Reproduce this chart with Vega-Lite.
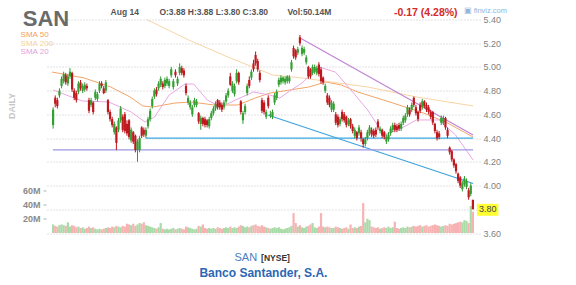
{
"$schema": "https://vega.github.io/schema/vega-lite/v6.json",
"width": 434, "height": 213.5,
"autosize": "none",
"padding": {"left": 46, "top": 19.5, "right": 96, "bottom": 52},
"background": "white",
"config": {"view": {"stroke": null}, "font": "Liberation Sans"},
"datasets": {
"candles": [
{"i":-4,"o":4.51,"h":4.66,"l":4.48,"c":4.64,"v":12},{"i":-3,"o":4.74,"h":4.76,"l":4.66,"c":4.69,"v":10},{"i":-2,"o":4.72,"h":4.74,"l":4.65,"c":4.67,"v":9},{"i":-1,"o":4.76,"h":4.82,"l":4.74,"c":4.80,"v":11},
{"i":0,"o":4.84,"h":4.92,"l":4.82,"c":4.90,"v":12},{"i":1,"o":4.88,"h":4.96,"l":4.86,"c":4.94,"v":11},{"i":2,"o":4.93,"h":4.95,"l":4.85,"c":4.87,"v":10},{"i":3,"o":4.86,"h":4.94,"l":4.84,"c":4.92,"v":15},{"i":4,"o":4.92,"h":4.99,"l":4.90,"c":4.96,"v":9},{"i":5,"o":4.95,"h":4.96,"l":4.79,"c":4.81,"v":11},{"i":6,"o":4.80,"h":4.82,"l":4.72,"c":4.74,"v":10},{"i":7,"o":4.78,"h":4.80,"l":4.70,"c":4.72,"v":8},{"i":8,"o":4.79,"h":4.88,"l":4.77,"c":4.86,"v":9},{"i":9,"o":4.87,"h":4.89,"l":4.80,"c":4.82,"v":7},
{"i":10,"o":4.80,"h":4.86,"l":4.78,"c":4.84,"v":8},{"i":11,"o":4.81,"h":4.87,"l":4.79,"c":4.85,"v":6},{"i":12,"o":4.84,"h":4.86,"l":4.80,"c":4.82,"v":7},{"i":13,"o":4.72,"h":4.74,"l":4.61,"c":4.63,"v":9},{"i":14,"o":4.68,"h":4.74,"l":4.66,"c":4.72,"v":7},{"i":15,"o":4.70,"h":4.71,"l":4.60,"c":4.62,"v":8},{"i":16,"o":4.74,"h":4.81,"l":4.72,"c":4.79,"v":6},{"i":17,"o":4.73,"h":4.79,"l":4.71,"c":4.77,"v":5},{"i":18,"o":4.80,"h":4.88,"l":4.78,"c":4.86,"v":6},{"i":19,"o":4.86,"h":4.88,"l":4.82,"c":4.84,"v":5},
{"i":20,"o":4.82,"h":4.84,"l":4.77,"c":4.78,"v":6},{"i":21,"o":4.80,"h":4.89,"l":4.78,"c":4.87,"v":7},{"i":22,"o":4.72,"h":4.73,"l":4.60,"c":4.62,"v":8},{"i":23,"o":4.62,"h":4.64,"l":4.54,"c":4.56,"v":7},{"i":24,"o":4.56,"h":4.58,"l":4.49,"c":4.51,"v":9},{"i":25,"o":4.45,"h":4.54,"l":4.43,"c":4.52,"v":8},{"i":26,"o":4.49,"h":4.50,"l":4.30,"c":4.36,"v":10},{"i":27,"o":4.47,"h":4.57,"l":4.45,"c":4.55,"v":9},{"i":28,"o":4.55,"h":4.67,"l":4.53,"c":4.65,"v":8},{"i":29,"o":4.58,"h":4.60,"l":4.45,"c":4.47,"v":10},
{"i":30,"o":4.60,"h":4.62,"l":4.44,"c":4.46,"v":9},{"i":31,"o":4.52,"h":4.55,"l":4.42,"c":4.44,"v":13},{"i":32,"o":4.55,"h":4.56,"l":4.39,"c":4.41,"v":12},{"i":33,"o":4.38,"h":4.49,"l":4.36,"c":4.47,"v":11},{"i":34,"o":4.45,"h":4.46,"l":4.35,"c":4.37,"v":13},{"i":35,"o":4.42,"h":4.43,"l":4.28,"c":4.30,"v":10},{"i":36,"o":4.30,"h":4.39,"l":4.20,"c":4.37,"v":12},{"i":37,"o":4.30,"h":4.42,"l":4.28,"c":4.40,"v":14},{"i":38,"o":4.49,"h":4.50,"l":4.40,"c":4.42,"v":13},{"i":39,"o":4.47,"h":4.49,"l":4.41,"c":4.43,"v":15},
{"i":40,"o":4.42,"h":4.49,"l":4.40,"c":4.47,"v":11},{"i":41,"o":4.50,"h":4.58,"l":4.48,"c":4.56,"v":10},{"i":42,"o":4.56,"h":4.65,"l":4.54,"c":4.63,"v":9},{"i":43,"o":4.67,"h":4.75,"l":4.65,"c":4.73,"v":8},{"i":44,"o":4.75,"h":4.82,"l":4.73,"c":4.80,"v":7},{"i":45,"o":4.81,"h":4.83,"l":4.75,"c":4.77,"v":6},{"i":46,"o":4.82,"h":4.88,"l":4.80,"c":4.86,"v":8},{"i":47,"o":4.85,"h":4.92,"l":4.83,"c":4.90,"v":14},{"i":48,"o":4.86,"h":4.88,"l":4.81,"c":4.83,"v":6},{"i":49,"o":4.84,"h":4.91,"l":4.82,"c":4.89,"v":5},
{"i":50,"o":4.86,"h":4.92,"l":4.84,"c":4.90,"v":6},{"i":51,"o":4.84,"h":4.90,"l":4.82,"c":4.88,"v":5},{"i":52,"o":4.93,"h":5.00,"l":4.91,"c":4.98,"v":6},{"i":53,"o":4.83,"h":4.90,"l":4.81,"c":4.88,"v":7},{"i":54,"o":4.96,"h":4.98,"l":4.91,"c":4.93,"v":5},{"i":55,"o":4.86,"h":4.92,"l":4.84,"c":4.90,"v":6},{"i":56,"o":4.95,"h":5.03,"l":4.93,"c":5.00,"v":7},{"i":57,"o":4.99,"h":5.01,"l":4.93,"c":4.95,"v":6},{"i":58,"o":4.97,"h":4.99,"l":4.91,"c":4.93,"v":5},{"i":59,"o":4.84,"h":4.86,"l":4.76,"c":4.78,"v":9},
{"i":60,"o":4.70,"h":4.76,"l":4.68,"c":4.74,"v":8},{"i":61,"o":4.66,"h":4.72,"l":4.64,"c":4.70,"v":7},{"i":62,"o":4.60,"h":4.68,"l":4.58,"c":4.66,"v":6},{"i":63,"o":4.68,"h":4.74,"l":4.66,"c":4.72,"v":5},{"i":64,"o":4.68,"h":4.73,"l":4.66,"c":4.71,"v":6},{"i":65,"o":4.61,"h":4.62,"l":4.52,"c":4.54,"v":10},{"i":66,"o":4.52,"h":4.59,"l":4.47,"c":4.57,"v":9},{"i":67,"o":4.57,"h":4.58,"l":4.50,"c":4.52,"v":12},{"i":68,"o":4.56,"h":4.58,"l":4.49,"c":4.51,"v":7},{"i":69,"o":4.55,"h":4.56,"l":4.49,"c":4.51,"v":6},
{"i":70,"o":4.50,"h":4.58,"l":4.48,"c":4.56,"v":7},{"i":71,"o":4.57,"h":4.63,"l":4.55,"c":4.61,"v":6},{"i":72,"o":4.61,"h":4.67,"l":4.59,"c":4.65,"v":7},{"i":73,"o":4.65,"h":4.71,"l":4.63,"c":4.69,"v":6},{"i":74,"o":4.72,"h":4.73,"l":4.64,"c":4.66,"v":8},{"i":75,"o":4.70,"h":4.72,"l":4.64,"c":4.66,"v":7},{"i":76,"o":4.68,"h":4.70,"l":4.62,"c":4.64,"v":6},{"i":77,"o":4.66,"h":4.72,"l":4.64,"c":4.70,"v":7},{"i":78,"o":4.71,"h":4.78,"l":4.69,"c":4.76,"v":8},{"i":79,"o":4.76,"h":4.82,"l":4.74,"c":4.80,"v":7},
{"i":80,"o":4.92,"h":4.95,"l":4.84,"c":4.85,"v":9},{"i":81,"o":4.80,"h":4.88,"l":4.78,"c":4.86,"v":7},{"i":82,"o":4.77,"h":4.86,"l":4.75,"c":4.84,"v":8},{"i":83,"o":4.88,"h":4.98,"l":4.86,"c":4.95,"v":7},{"i":84,"o":4.95,"h":4.96,"l":4.85,"c":4.87,"v":9},{"i":85,"o":4.71,"h":4.72,"l":4.60,"c":4.62,"v":11},{"i":86,"o":4.55,"h":4.63,"l":4.52,"c":4.61,"v":10},{"i":87,"o":4.62,"h":4.69,"l":4.60,"c":4.67,"v":8},{"i":88,"o":4.78,"h":4.86,"l":4.76,"c":4.84,"v":9},{"i":89,"o":4.89,"h":4.92,"l":4.82,"c":4.84,"v":8},
{"i":90,"o":4.91,"h":4.98,"l":4.89,"c":4.96,"v":10},{"i":91,"o":5.03,"h":5.06,"l":4.96,"c":4.98,"v":11},{"i":92,"o":5.10,"h":5.13,"l":5.01,"c":5.03,"v":12},{"i":93,"o":5.05,"h":5.07,"l":4.96,"c":4.98,"v":10},{"i":94,"o":4.95,"h":4.97,"l":4.87,"c":4.89,"v":9},{"i":95,"o":4.72,"h":4.74,"l":4.61,"c":4.63,"v":11},{"i":96,"o":4.70,"h":4.72,"l":4.60,"c":4.62,"v":9},{"i":97,"o":4.58,"h":4.64,"l":4.56,"c":4.62,"v":8},{"i":98,"o":4.74,"h":4.76,"l":4.65,"c":4.67,"v":7},{"i":99,"o":4.59,"h":4.63,"l":4.57,"c":4.60,"v":6},
{"i":100,"o":4.58,"h":4.64,"l":4.56,"c":4.62,"v":7},{"i":101,"o":4.70,"h":4.78,"l":4.68,"c":4.76,"v":8},{"i":102,"o":4.74,"h":4.81,"l":4.72,"c":4.79,"v":7},{"i":103,"o":4.85,"h":4.91,"l":4.83,"c":4.89,"v":8},{"i":104,"o":4.87,"h":4.93,"l":4.85,"c":4.91,"v":6},{"i":105,"o":4.88,"h":4.92,"l":4.86,"c":4.91,"v":5},{"i":106,"o":4.87,"h":4.92,"l":4.85,"c":4.90,"v":6},{"i":107,"o":4.88,"h":4.93,"l":4.86,"c":4.92,"v":7},{"i":108,"o":4.88,"h":4.93,"l":4.86,"c":4.91,"v":8},{"i":109,"o":4.98,"h":5.06,"l":4.96,"c":5.04,"v":10},
{"i":110,"o":5.16,"h":5.18,"l":5.07,"c":5.09,"v":28},{"i":111,"o":5.14,"h":5.15,"l":5.06,"c":5.08,"v":14},{"i":112,"o":5.12,"h":5.17,"l":5.10,"c":5.15,"v":9},{"i":113,"o":5.25,"h":5.27,"l":5.18,"c":5.20,"v":11},{"i":114,"o":5.11,"h":5.18,"l":5.09,"c":5.16,"v":8},{"i":115,"o":5.12,"h":5.17,"l":5.10,"c":5.15,"v":7},{"i":116,"o":5.04,"h":5.10,"l":5.02,"c":5.08,"v":9},{"i":117,"o":5.00,"h":5.01,"l":4.90,"c":4.92,"v":10},{"i":118,"o":4.98,"h":4.99,"l":4.90,"c":4.92,"v":12},{"i":119,"o":4.95,"h":5.02,"l":4.93,"c":5.00,"v":14},
{"i":120,"o":4.96,"h":5.02,"l":4.94,"c":5.00,"v":8},{"i":121,"o":4.95,"h":5.01,"l":4.93,"c":4.99,"v":7},{"i":122,"o":5.02,"h":5.04,"l":4.92,"c":4.94,"v":9},{"i":123,"o":4.98,"h":5.00,"l":4.86,"c":4.88,"v":28},{"i":124,"o":4.91,"h":4.92,"l":4.85,"c":4.87,"v":9},{"i":125,"o":4.80,"h":4.86,"l":4.78,"c":4.84,"v":8},{"i":126,"o":4.76,"h":4.78,"l":4.68,"c":4.70,"v":9},{"i":127,"o":4.74,"h":4.76,"l":4.66,"c":4.68,"v":8},{"i":128,"o":4.64,"h":4.72,"l":4.62,"c":4.70,"v":7},{"i":129,"o":4.64,"h":4.71,"l":4.62,"c":4.69,"v":7},
{"i":130,"o":4.60,"h":4.62,"l":4.51,"c":4.53,"v":9},{"i":131,"o":4.58,"h":4.60,"l":4.49,"c":4.51,"v":8},{"i":132,"o":4.52,"h":4.58,"l":4.50,"c":4.56,"v":7},{"i":133,"o":4.62,"h":4.64,"l":4.54,"c":4.56,"v":6},{"i":134,"o":4.60,"h":4.62,"l":4.53,"c":4.55,"v":7},{"i":135,"o":4.58,"h":4.59,"l":4.49,"c":4.51,"v":8},{"i":136,"o":4.52,"h":4.57,"l":4.50,"c":4.55,"v":6},{"i":137,"o":4.56,"h":4.57,"l":4.48,"c":4.50,"v":12},{"i":138,"o":4.50,"h":4.52,"l":4.44,"c":4.46,"v":7},{"i":139,"o":4.42,"h":4.49,"l":4.40,"c":4.47,"v":8},
{"i":140,"o":4.45,"h":4.46,"l":4.38,"c":4.40,"v":7},{"i":141,"o":4.44,"h":4.51,"l":4.42,"c":4.49,"v":9},{"i":142,"o":4.45,"h":4.47,"l":4.37,"c":4.40,"v":10},{"i":143,"o":4.39,"h":4.40,"l":4.32,"c":4.35,"v":42},{"i":144,"o":4.35,"h":4.41,"l":4.33,"c":4.39,"v":15},{"i":145,"o":4.40,"h":4.47,"l":4.38,"c":4.45,"v":20},{"i":146,"o":4.44,"h":4.51,"l":4.42,"c":4.49,"v":18},{"i":147,"o":4.47,"h":4.49,"l":4.41,"c":4.43,"v":9},{"i":148,"o":4.46,"h":4.48,"l":4.40,"c":4.42,"v":8},{"i":149,"o":4.47,"h":4.49,"l":4.41,"c":4.43,"v":7},
{"i":150,"o":4.54,"h":4.56,"l":4.47,"c":4.49,"v":8},{"i":151,"o":4.46,"h":4.50,"l":4.44,"c":4.48,"v":6},{"i":152,"o":4.47,"h":4.48,"l":4.40,"c":4.42,"v":7},{"i":153,"o":4.45,"h":4.46,"l":4.39,"c":4.41,"v":8},{"i":154,"o":4.37,"h":4.43,"l":4.35,"c":4.41,"v":7},{"i":155,"o":4.39,"h":4.45,"l":4.37,"c":4.43,"v":9},{"i":156,"o":4.44,"h":4.50,"l":4.42,"c":4.48,"v":7},{"i":157,"o":4.47,"h":4.53,"l":4.45,"c":4.51,"v":8},{"i":158,"o":4.51,"h":4.53,"l":4.45,"c":4.47,"v":16},{"i":159,"o":4.50,"h":4.52,"l":4.45,"c":4.47,"v":7},
{"i":160,"o":4.51,"h":4.53,"l":4.46,"c":4.48,"v":6},{"i":161,"o":4.48,"h":4.54,"l":4.46,"c":4.52,"v":7},{"i":162,"o":4.53,"h":4.59,"l":4.51,"c":4.57,"v":8},{"i":163,"o":4.55,"h":4.61,"l":4.53,"c":4.59,"v":7},{"i":164,"o":4.60,"h":4.68,"l":4.58,"c":4.66,"v":9},{"i":165,"o":4.64,"h":4.66,"l":4.58,"c":4.60,"v":8},{"i":166,"o":4.64,"h":4.70,"l":4.62,"c":4.68,"v":9},{"i":167,"o":4.74,"h":4.75,"l":4.66,"c":4.68,"v":10},{"i":168,"o":4.66,"h":4.68,"l":4.59,"c":4.61,"v":9},{"i":169,"o":4.62,"h":4.63,"l":4.54,"c":4.56,"v":10},
{"i":170,"o":4.68,"h":4.70,"l":4.61,"c":4.63,"v":11},{"i":171,"o":4.66,"h":4.73,"l":4.64,"c":4.71,"v":9},{"i":172,"o":4.71,"h":4.72,"l":4.65,"c":4.67,"v":10},{"i":173,"o":4.68,"h":4.70,"l":4.62,"c":4.64,"v":11},{"i":174,"o":4.66,"h":4.68,"l":4.60,"c":4.62,"v":9},{"i":175,"o":4.62,"h":4.64,"l":4.56,"c":4.58,"v":10},{"i":176,"o":4.62,"h":4.63,"l":4.51,"c":4.53,"v":11},{"i":177,"o":4.52,"h":4.53,"l":4.44,"c":4.46,"v":12},{"i":178,"o":4.45,"h":4.47,"l":4.38,"c":4.40,"v":11},{"i":179,"o":4.44,"h":4.46,"l":4.39,"c":4.41,"v":10},
{"i":180,"o":4.53,"h":4.59,"l":4.51,"c":4.57,"v":9},{"i":181,"o":4.53,"h":4.59,"l":4.51,"c":4.57,"v":10},{"i":182,"o":4.57,"h":4.58,"l":4.47,"c":4.49,"v":11},{"i":183,"o":4.47,"h":4.49,"l":4.40,"c":4.42,"v":10},{"i":184,"o":4.32,"h":4.33,"l":4.26,"c":4.28,"v":13},{"i":185,"o":4.29,"h":4.30,"l":4.20,"c":4.22,"v":12},{"i":186,"o":4.22,"h":4.23,"l":4.15,"c":4.17,"v":13},{"i":187,"o":4.18,"h":4.19,"l":4.10,"c":4.12,"v":14},{"i":188,"o":4.10,"h":4.11,"l":4.02,"c":4.04,"v":15},{"i":189,"o":4.07,"h":4.08,"l":3.98,"c":4.00,"v":16},
{"i":190,"o":3.97,"h":4.04,"l":3.95,"c":4.02,"v":15},{"i":191,"o":4.01,"h":4.08,"l":3.99,"c":4.06,"v":18},{"i":192,"o":3.99,"h":4.06,"l":3.97,"c":4.04,"v":17},{"i":193,"o":3.96,"h":3.98,"l":3.88,"c":3.90,"v":14},{"i":194,"o":3.93,"h":4.02,"l":3.91,"c":4.00,"v":38},{"i":195,"o":3.88,"h":3.88,"l":3.80,"c":3.80,"v":30}
],
"sma": [
{"s":"50","i":-4.5,"p":4.957},{"s":"50","i":10.7,"p":4.907},{"s":"50","i":23.3,"p":4.831},{"s":"50","i":32.5,"p":4.747},{"s":"50","i":38.5,"p":4.671},{"s":"50","i":43.2,"p":4.662},{"s":"50","i":53.8,"p":4.696},{"s":"50","i":61.7,"p":4.704},{"s":"50","i":72.4,"p":4.679},{"s":"50","i":83.5,"p":4.679},{"s":"50","i":91.8,"p":4.738},{"s":"50","i":98.8,"p":4.78},{"s":"50","i":108,"p":4.805},{"s":"50","i":117.3,"p":4.831},{"s":"50","i":125.2,"p":4.873},{"s":"50","i":132.6,"p":4.848},{"s":"50","i":140.4,"p":4.789},{"s":"50","i":155.7,"p":4.704},{"s":"50","i":171.5,"p":4.612},{"s":"50","i":182.1,"p":4.536},{"s":"50","i":195.1,"p":4.409},
{"s":"200","i":20,"p":5.581},{"s":"200","i":39.9,"p":5.404},{"s":"200","i":60.3,"p":5.227},{"s":"200","i":78.8,"p":5.084},{"s":"200","i":100.1,"p":4.932},{"s":"200","i":114,"p":4.907},{"s":"200","i":145.1,"p":4.831},{"s":"200","i":168.2,"p":4.747},{"s":"200","i":195.1,"p":4.671},
{"s":"20","i":-4.1,"p":4.806},{"s":"20","i":9.8,"p":4.713},{"s":"20","i":22.3,"p":4.705},{"s":"20","i":33,"p":4.62},{"s":"20","i":39.5,"p":4.536},{"s":"20","i":44.1,"p":4.578},{"s":"20","i":51,"p":4.763},{"s":"20","i":58.5,"p":4.856},{"s":"20","i":62.6,"p":4.856},{"s":"20","i":69.1,"p":4.721},{"s":"20","i":75.6,"p":4.662},{"s":"20","i":82.5,"p":4.721},{"s":"20","i":90.9,"p":4.789},{"s":"20","i":98.8,"p":4.763},{"s":"20","i":103.4,"p":4.738},{"s":"20","i":108.9,"p":4.806},{"s":"20","i":114,"p":4.865},{"s":"20","i":121.9,"p":5.0},{"s":"20","i":129.8,"p":4.957},{"s":"20","i":137.2,"p":4.806},{"s":"20","i":145.1,"p":4.637},{"s":"20","i":152.9,"p":4.426},{"s":"20","i":161.3,"p":4.485},{"s":"20","i":168.2,"p":4.553},{"s":"20","i":178.9,"p":4.553},{"s":"20","i":186.8,"p":4.426},{"s":"20","i":195.1,"p":4.215}
],
"trend": [
{"g":"purple","i":113.1,"p":5.244},{"g":"purple","i":195.1,"p":4.426},
{"g":"blue","i":97.8,"p":4.595},{"g":"blue","i":195.1,"p":4.017},
{"g":"support","i":39.9,"p":4.40},{"g":"support","i":195.1,"p":4.40},
{"g":"lavender","i":-4.1,"p":4.30},{"g":"lavender","i":195.1,"p":4.30}
]
},
"layer": [
{
"data": {"name": "candles"},
"mark": {"type": "bar", "size": 2.2},
"encoding": {
"x": {"field": "i", "type": "quantitative", "scale": {"domain": [-5, 196], "nice": false, "zero": false},
 "axis": {"values": [0,21,40,61,80,101,122,144,164,186], "labelExpr": "datum.value==0?'Nov':datum.value==21?'Dec':datum.value==40?'2019':datum.value==61?'Feb':datum.value==80?'Mar':datum.value==101?'Apr':datum.value==122?'May':datum.value==144?'Jun':datum.value==164?'Jul':'Aug'", "grid": true, "gridDash": [1,2], "gridColor": "#c4c4c4", "domain": false, "ticks": false, "labelColor": "#8a8a8a", "labelFontSize": 9, "labelFontWeight": "bold", "labelPadding": 4, "labelOverlap": false, "title": null}},
"y": {"field": "v", "type": "quantitative", "scale": {"domain": [0, 300], "nice": false},
 "axis": {"orient": "left", "values": [20,40,60], "labelExpr": "datum.value + 'M'", "grid": false, "domain": false, "tickSize": 3, "tickColor": "#b0b0b0", "labelColor": "#8a8a8a", "labelFontSize": 9, "labelFontWeight": "bold", "labelPadding": 3, "labelOverlap": false, "title": null}},
"color": {"condition": {"test": "datum.c >= datum.o", "value": "#a8dba8"}, "value": "#f7b3b3"}
}
},
{
"data": {"name": "sma"},
"mark": {"type": "line", "strokeWidth": 1, "clip": true},
"encoding": {
"x": {"field": "i", "type": "quantitative", "scale": {"domain": [-5, 196], "nice": false, "zero": false}, "axis": null},
"y": {"field": "p", "type": "quantitative", "scale": {"domain": [3.6, 5.4], "nice": false, "zero": false},
 "axis": {"orient": "right", "values": [3.6,3.8,4.0,4.2,4.4,4.6,4.8,5.0,5.2,5.4], "labelExpr": "abs(datum.value-3.8)<0.001 ? '' : format(datum.value, '.2f')", "grid": true, "gridDash": [1,2], "gridColor": "#c4c4c4", "domain": false, "ticks": false, "labelPadding": 3, "labelColor": "#808080", "labelFontSize": 9, "labelOverlap": false, "labelBound": false, "labelFlush": false, "title": null}},
"color": {"field": "s", "type": "nominal", "scale": {"domain": ["50","200","20"], "range": ["#f4a468","#f6d4a6","#e8a8e4"]}, "legend": null}
}
},
{
"data": {"name": "trend"},
"mark": {"type": "line", "strokeWidth": 1.2},
"encoding": {
"x": {"field": "i", "type": "quantitative", "scale": {"domain": [-5, 196], "nice": false, "zero": false}, "axis": null},
"y": {"field": "p", "type": "quantitative", "scale": {"domain": [3.6, 5.4], "nice": false, "zero": false}, "axis": null},
"color": {"field": "g", "type": "nominal", "scale": {"domain": ["purple","blue","support","lavender"], "range": ["#c183d6","#3da3dd","#3aa8de","#9d97e3"]}, "legend": null}
}
},
{
"data": {"name": "candles"},
"mark": {"type": "rule", "strokeWidth": 1},
"encoding": {
"x": {"field": "i", "type": "quantitative", "scale": {"domain": [-5, 196], "nice": false, "zero": false}, "axis": null},
"y": {"field": "l", "type": "quantitative", "scale": {"domain": [3.6, 5.4], "nice": false, "zero": false}, "axis": null},
"y2": {"field": "h"},
"color": {"condition": {"test": "datum.c >= datum.o", "value": "#2f9a2f"}, "value": "#b8141c"}
}
},
{
"data": {"name": "candles"},
"mark": {"type": "bar", "size": 2.2},
"encoding": {
"x": {"field": "i", "type": "quantitative", "scale": {"domain": [-5, 196], "nice": false, "zero": false}, "axis": null},
"y": {"field": "o", "type": "quantitative", "scale": {"domain": [3.6, 5.4], "nice": false, "zero": false}, "axis": null},
"y2": {"field": "c"},
"color": {"condition": {"test": "datum.c >= datum.o", "value": "#34a034"}, "value": "#c0181f"}
}
},
{
"data": {"values": [{}]},
"mark": {"type": "rect", "fill": "#ffff33"},
"encoding": {
"x": {"datum": 196.9, "type": "quantitative", "scale": {"domain": [-5, 196], "nice": false, "zero": false}, "axis": null},
"x2": {"datum": 207.1},
"y": {"datum": 3.846, "type": "quantitative", "scale": {"domain": [3.6, 5.4], "nice": false, "zero": false}, "axis": null},
"y2": {"datum": 3.745}
}
},
{
"data": {"values": [{}]},
"mark": {"type": "text", "align": "left", "baseline": "middle", "fontSize": 9, "fill": "#444444"},
"encoding": {
"x": {"datum": 197.85, "type": "quantitative", "scale": {"domain": [-5, 196], "nice": false, "zero": false}, "axis": null},
"y": {"datum": 3.8, "type": "quantitative", "scale": {"domain": [3.6, 5.4], "nice": false, "zero": false}, "axis": null},
"text": {"value": "3.80"}
}
},
{
"data": {"values": [{}]},
"mark": {"type": "text", "align": "left", "baseline": "alphabetic", "fontSize": 22, "fontWeight": "bold", "fill": "#6a6a6a"},
"encoding": {
"x": {"datum": -18.4, "type": "quantitative", "scale": {"domain": [-5, 196], "nice": false, "zero": false}, "axis": null},
"y": {"datum": 5.345, "type": "quantitative", "scale": {"domain": [3.6, 5.4], "nice": false, "zero": false}, "axis": null},
"text": {"value": "SAN"}
}
},
{
"data": {"values": [{}]},
"mark": {"type": "text", "align": "left", "baseline": "alphabetic", "fontSize": 8, "fill": "#f3a062"},
"encoding": {
"x": {"datum": -19.4, "type": "quantitative", "scale": {"domain": [-5, 196], "nice": false, "zero": false}, "axis": null},
"y": {"datum": 5.25, "type": "quantitative", "scale": {"domain": [3.6, 5.4], "nice": false, "zero": false}, "axis": null},
"text": {"value": "SMA 50"}
}
},
{
"data": {"values": [{}]},
"mark": {"type": "text", "align": "left", "baseline": "alphabetic", "fontSize": 8, "fill": "#f3cf9e"},
"encoding": {
"x": {"datum": -19.4, "type": "quantitative", "scale": {"domain": [-5, 196], "nice": false, "zero": false}, "axis": null},
"y": {"datum": 5.179, "type": "quantitative", "scale": {"domain": [3.6, 5.4], "nice": false, "zero": false}, "axis": null},
"text": {"value": "SMA 200"}
}
},
{
"data": {"values": [{}]},
"mark": {"type": "text", "align": "left", "baseline": "alphabetic", "fontSize": 8, "fill": "#e3a0df"},
"encoding": {
"x": {"datum": -19.4, "type": "quantitative", "scale": {"domain": [-5, 196], "nice": false, "zero": false}, "axis": null},
"y": {"datum": 5.109, "type": "quantitative", "scale": {"domain": [3.6, 5.4], "nice": false, "zero": false}, "axis": null},
"text": {"value": "SMA 20"}
}
},
{
"data": {"values": [{}]},
"mark": {"type": "text", "align": "left", "baseline": "alphabetic", "fontSize": 8.5, "fontWeight": "bold", "fill": "#555555"},
"encoding": {
"x": {"datum": 23.25, "type": "quantitative", "scale": {"domain": [-5, 196], "nice": false, "zero": false}, "axis": null},
"y": {"datum": 5.438, "type": "quantitative", "scale": {"domain": [3.6, 5.4], "nice": false, "zero": false}, "axis": null},
"text": {"value": "Aug 14"}
}
},
{
"data": {"values": [{}]},
"mark": {"type": "text", "align": "left", "baseline": "alphabetic", "fontSize": 8.5, "fontWeight": "bold", "fill": "#555555"},
"encoding": {
"x": {"datum": 46.4, "type": "quantitative", "scale": {"domain": [-5, 196], "nice": false, "zero": false}, "axis": null},
"y": {"datum": 5.438, "type": "quantitative", "scale": {"domain": [3.6, 5.4], "nice": false, "zero": false}, "axis": null},
"text": {"value": "O:3.88  H:3.88  L:3.80  C:3.80"}
}
},
{
"data": {"values": [{}]},
"mark": {"type": "text", "align": "left", "baseline": "alphabetic", "fontSize": 8.5, "fontWeight": "bold", "fill": "#555555"},
"encoding": {
"x": {"datum": 107.1, "type": "quantitative", "scale": {"domain": [-5, 196], "nice": false, "zero": false}, "axis": null},
"y": {"datum": 5.438, "type": "quantitative", "scale": {"domain": [3.6, 5.4], "nice": false, "zero": false}, "axis": null},
"text": {"value": "Vol:50.14M"}
}
},
{
"data": {"values": [{}]},
"mark": {"type": "text", "align": "left", "baseline": "alphabetic", "fontSize": 10.5, "fontWeight": "bold", "fill": "#d42a2a"},
"encoding": {
"x": {"datum": 157.6, "type": "quantitative", "scale": {"domain": [-5, 196], "nice": false, "zero": false}, "axis": null},
"y": {"datum": 5.43, "type": "quantitative", "scale": {"domain": [3.6, 5.4], "nice": false, "zero": false}, "axis": null},
"text": {"value": "-0.17 (4.28%)"}
}
},
{
"data": {"values": [{}]},
"mark": {"type": "text", "align": "left", "baseline": "alphabetic", "fontSize": 7.5, "fill": "#8db6dc"},
"encoding": {
"x": {"datum": 190.6, "type": "quantitative", "scale": {"domain": [-5, 196], "nice": false, "zero": false}, "axis": null},
"y": {"datum": 5.455, "type": "quantitative", "scale": {"domain": [3.6, 5.4], "nice": false, "zero": false}, "axis": null},
"text": {"value": "▣ finviz.com"}
}
},
{
"data": {"values": [{}]},
"mark": {"type": "text", "align": "center", "baseline": "middle", "angle": 270, "fontSize": 9, "fontWeight": "bold", "fill": "#c6c6c6"},
"encoding": {
"x": {"datum": -23.5, "type": "quantitative", "scale": {"domain": [-5, 196], "nice": false, "zero": false}, "axis": null},
"y": {"datum": 4.671, "type": "quantitative", "scale": {"domain": [3.6, 5.4], "nice": false, "zero": false}, "axis": null},
"text": {"value": "DAILY"}
}
},
{
"data": {"values": [{}]},
"mark": {"type": "text", "align": "right", "baseline": "alphabetic", "fontSize": 11, "fill": "#4a7fc1"},
"encoding": {
"x": {"datum": 92.7, "type": "quantitative", "scale": {"domain": [-5, 196], "nice": false, "zero": false}, "axis": null},
"y": {"datum": 3.364, "type": "quantitative", "scale": {"domain": [3.6, 5.4], "nice": false, "zero": false}, "axis": null},
"text": {"value": "SAN"}
}
},
{
"data": {"values": [{}]},
"mark": {"type": "text", "align": "left", "baseline": "alphabetic", "fontSize": 8.5, "fontWeight": "bold", "fill": "#333333"},
"encoding": {
"x": {"datum": 94.6, "type": "quantitative", "scale": {"domain": [-5, 196], "nice": false, "zero": false}, "axis": null},
"y": {"datum": 3.364, "type": "quantitative", "scale": {"domain": [3.6, 5.4], "nice": false, "zero": false}, "axis": null},
"text": {"value": "[NYSE]"}
}
},
{
"data": {"values": [{}]},
"mark": {"type": "text", "align": "center", "baseline": "alphabetic", "fontSize": 12, "fontWeight": "bold", "fill": "#2c67b3"},
"encoding": {
"x": {"datum": 95.7, "type": "quantitative", "scale": {"domain": [-5, 196], "nice": false, "zero": false}, "axis": null},
"y": {"datum": 3.229, "type": "quantitative", "scale": {"domain": [3.6, 5.4], "nice": false, "zero": false}, "axis": null},
"text": {"value": "Banco Santander, S.A."}
}
}
],
"resolve": {"scale": {"y": "independent", "color": "independent"}}
}
